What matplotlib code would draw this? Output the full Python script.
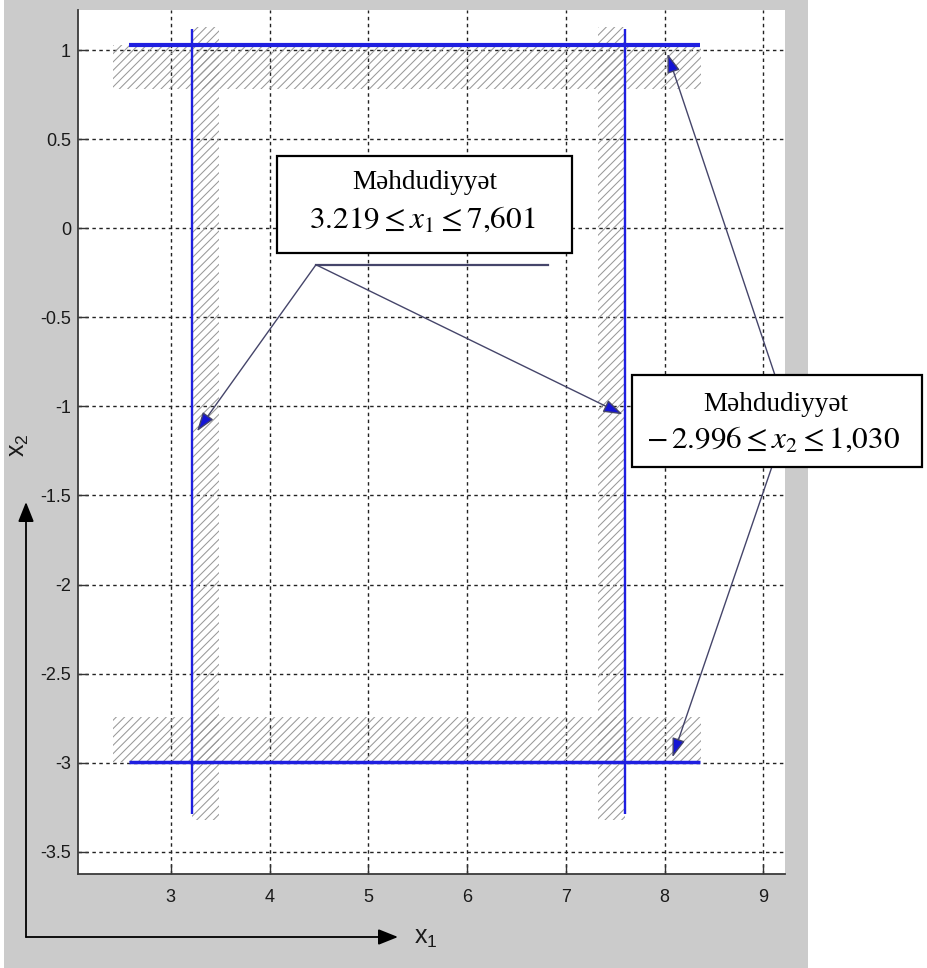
import matplotlib
matplotlib.use("Agg")
import matplotlib.pyplot as plt
from matplotlib.patches import Rectangle, FancyArrowPatch

plt.rcParams['font.family'] = ['Liberation Sans', 'DejaVu Sans']
plt.rcParams['mathtext.fontset'] = 'stix'
plt.rcParams['hatch.linewidth'] = 0.75

# ---- data ----
x1_bounds = [3.219, 7.601]          # constraint on x1
x2_bounds = [-2.996, 1.030]         # constraint on x2
hline_x = [2.58, 8.36]              # extent of horizontal constraint lines
vline_y = [-3.29, 1.12]             # extent of vertical constraint lines
hatch_x = [2.41, 8.37]              # extent of horizontal hatched bands
hatch_y = [-3.32, 1.13]             # extent of vertical hatched bands
band_w_x = 0.27                     # width of vertical hatched bands
band_w_y = 0.25                     # height of horizontal hatched bands
xticks = [3, 4, 5, 6, 7, 8, 9]
yticks = [1, 0.5, 0, -0.5, -1, -1.5, -2, -2.5, -3, -3.5]
ytick_labels = ["1", "0.5", "0", "-0.5", "-1", "-1.5", "-2", "-2.5", "-3", "-3.5"]
xlim = (2.06, 9.22)
ylim = (-3.625, 1.225)

box1_label = "Məhdudiyyət"
box1_formula = r"$3.219 \leq x_1 \leq 7{,}601$"
box2_label = "Məhdudiyyət"
box2_formula = r"$-\,2.996 \leq x_2 \leq 1{,}030$"

# callout geometry (data coords)
c1_origin = (4.47, -0.205)
c1_line_end = 6.82
c1_tips = [(3.265, -1.14), (7.575, -1.045)]
c2_origin = (9.26, -1.06)
c2_tips = [(8.03, 0.98), (8.08, -2.97)]

W, H = 927, 968
fig = plt.figure(figsize=(W / 100, H / 100), dpi=100)
fig.patch.set_facecolor('white')
fig.add_artist(Rectangle((4 / W, 0), (808 - 4) / W, 1, transform=fig.transFigure,
                         facecolor='#cbcbcb', edgecolor='none', zorder=-10))

ax = fig.add_axes([78 / W, 1 - 874 / H, (785 - 78) / W, (874 - 10) / H])
ax.set_facecolor('white')
ax.set_xlim(*xlim)
ax.set_ylim(*ylim)
ax.set_xticks(xticks)
ax.set_xticklabels([str(t) for t in xticks])
ax.set_yticks(yticks)
ax.set_yticklabels(ytick_labels)
ax.tick_params(direction='in', length=7, width=1.0, colors='#333333',
               labelsize=13, labelcolor='#1a1a1a')
ax.tick_params(axis='x', pad=11)
ax.tick_params(axis='y', pad=5)
for s in ['top', 'right']:
    ax.spines[s].set_visible(False)
for s in ['left', 'bottom']:
    ax.spines[s].set_color('#3a3a3a')
    ax.spines[s].set_linewidth(1.3)
ax.grid(True, color='#222222', linestyle=(0, (2.5, 2.5)), linewidth=1.0)
ax.set_axisbelow(True)

hcol = '#999999'
hp = '////'
# hatched bands
ax.add_patch(Rectangle((hatch_x[0], x2_bounds[1] - band_w_y), hatch_x[1] - hatch_x[0], band_w_y,
                       facecolor='none', edgecolor=hcol, linewidth=0, hatch=hp, zorder=1))
ax.add_patch(Rectangle((hatch_x[0], x2_bounds[0]), hatch_x[1] - hatch_x[0], band_w_y,
                       facecolor='none', edgecolor=hcol, linewidth=0, hatch=hp, zorder=1))
ax.add_patch(Rectangle((x1_bounds[0], hatch_y[0]), band_w_x, hatch_y[1] - hatch_y[0],
                       facecolor='none', edgecolor=hcol, linewidth=0, hatch=hp, zorder=1))
ax.add_patch(Rectangle((x1_bounds[1] - band_w_x, hatch_y[0]), band_w_x, hatch_y[1] - hatch_y[0],
                       facecolor='none', edgecolor=hcol, linewidth=0, hatch=hp, zorder=1))

blue = '#1f1fe0'
ax.plot(hline_x, [x2_bounds[1]] * 2, color=blue, lw=3.0, zorder=3, solid_capstyle='butt')
ax.plot(hline_x, [x2_bounds[0]] * 2, color=blue, lw=2.5, zorder=3, solid_capstyle='butt')
ax.plot([x1_bounds[0]] * 2, vline_y, color=blue, lw=1.7, zorder=3, solid_capstyle='butt')
ax.plot([x1_bounds[1]] * 2, vline_y, color=blue, lw=1.7, zorder=3, solid_capstyle='butt')

# callouts
lcol = '#45456a'
ax.plot([c1_origin[0], c1_line_end], [c1_origin[1]] * 2, color=lcol, lw=1.6, zorder=4)
astyle = '-|>,head_length=0.65,head_width=0.22'
for tip in c1_tips:
    ax.annotate('', xy=tip, xytext=c1_origin,
                arrowprops=dict(arrowstyle=astyle, mutation_scale=18, fc='#1515d5',
                                ec=lcol, lw=1.0, shrinkA=0, shrinkB=0), zorder=4)
for tip in c2_tips:
    ax.annotate('', xy=tip, xytext=c2_origin, annotation_clip=False,
                arrowprops=dict(arrowstyle=astyle, mutation_scale=18, fc='#1515d5',
                                ec=lcol, lw=1.0, shrinkA=0, shrinkB=0), zorder=4)

# boxes
ax.add_patch(Rectangle((4.08, -0.138), 7.06 - 4.08, 0.408 + 0.138, facecolor='white',
                       edgecolor='black', lw=1.6, zorder=5, clip_on=False))
ax.text(5.57, 0.255, box1_label, ha='center', va='center', fontsize=19.5,
        family=['Liberation Serif', 'DejaVu Serif'], zorder=6)
ax.text(5.55, 0.045, box1_formula, ha='center', va='center', fontsize=22.5, zorder=6)

ax.add_patch(Rectangle((7.67, -1.341), 10.61 - 7.67, 1.341 - 0.824, facecolor='white',
                       edgecolor='black', lw=1.6, zorder=5, clip_on=False))
ax.text(9.13, -0.99, box2_label, ha='center', va='center', fontsize=19.5,
        family=['Liberation Serif', 'DejaVu Serif'], zorder=6, clip_on=False)
ax.text(9.10, -1.19, box2_formula, ha='center', va='center', fontsize=22.5, zorder=6,
        clip_on=False)

# outer axis arrows
o = (26 / W, 1 - 937 / H)
fig.add_artist(FancyArrowPatch(o, (398 / W, o[1]), transform=fig.transFigure,
                               arrowstyle='-|>,head_length=0.6,head_width=0.24',
                               mutation_scale=20, color='black', lw=1.3, shrinkA=0, shrinkB=0))
fig.add_artist(FancyArrowPatch(o, (o[0], 1 - 502 / H), transform=fig.transFigure,
                               arrowstyle='-|>,head_length=0.6,head_width=0.24',
                               mutation_scale=20, color='black', lw=1.3, shrinkA=0, shrinkB=0))
fig.text(426 / W, 1 - 938 / H, r'$\mathregular{x_1}$', fontsize=18, ha='center', va='center',
         color='#1a1a1a')
fig.text(19 / W, 1 - 445 / H, r'$\mathregular{x_2}$', fontsize=18, ha='center', va='center',
         rotation=90, color='#1a1a1a')

fig.savefig('out.png', dpi=100, facecolor=fig.get_facecolor())
